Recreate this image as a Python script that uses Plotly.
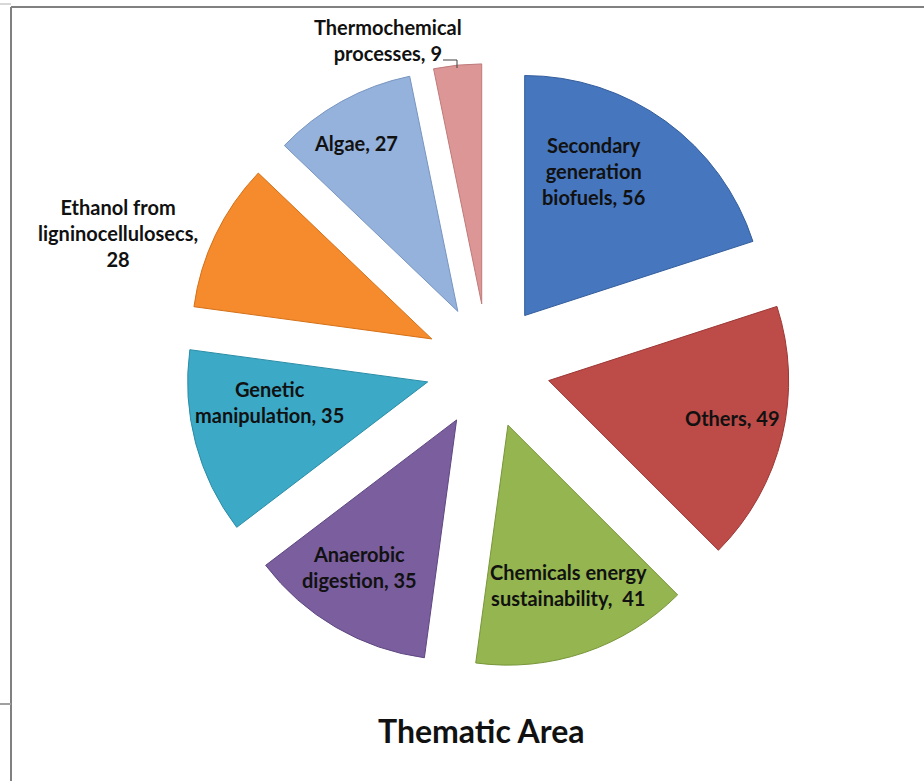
import plotly.graph_objects as go

W, H = 924, 781

labels = ["Secondary generation biofuels", "Others", "Chemicals energy sustainability",
          "Anaerobic digestion", "Genetic manipulation", "Ethanol from ligninocellulosecs",
          "Algae", "Thermochemical processes"]
values = [56, 49, 41, 35, 35, 28, 27, 9]
label_text = ["Secondary<br>generation<br>biofuels, 56", "Others, 49",
              "Chemicals energy<br>sustainability,  41", "Anaerobic<br>digestion, 35",
              "Genetic<br>manipulation, 35", "Ethanol from<br>ligninocellulosecs,<br>28",
              "Algae, 27", "Thermochemical<br>processes, 9"]
colors = ["#4676bd", "#bd4b48", "#94b54f", "#7a5e9e", "#3caac7", "#f58b2c", "#94b2dc", "#dc9696"]
edges = ["#335d9c", "#9c3835", "#78963a", "#5f4782", "#2b8ca6", "#d47018", "#7895c0", "#bf7a7a"]

# label centres in pixels
label_pos = [(593, 171), (732, 418), (568, 585), (359, 567),
             (269, 402), (118, 233), (356, 143), (388, 40)]

cx, cy, R, pull = 488, 366, 240, 0.26
half = R * (1 + pull)

fig = go.Figure(go.Pie(
    labels=labels,
    values=values,
    sort=False,
    direction="clockwise",
    rotation=0,
    pull=[pull] * len(values),
    marker=dict(colors=colors, line=dict(color=edges, width=1)),
    textinfo="none",
    hoverinfo="label+value",
    showlegend=False,
    domain=dict(x=[(cx - half) / W, (cx + half) / W],
                y=[1 - (cy + half) / H, 1 - (cy - half) / H]),
))

font = dict(family="Lato, 'Open Sans', sans-serif", size=20, color="#111111")
annotations = []
for txt, (px, py) in zip(label_text, label_pos):
    annotations.append(dict(x=px / W, y=1 - py / H, xref="paper", yref="paper",
                            text="<b>" + txt + "</b>", showarrow=False,
                            font=font, align="center", xanchor="center", yanchor="middle"))
annotations.append(dict(x=481 / W, y=1 - 730 / H, xref="paper", yref="paper",
                        text="<b>Thematic Area</b>", showarrow=False,
                        font=dict(family="Lato, 'Open Sans', sans-serif", size=32, color="#111111"),
                        xanchor="center", yanchor="middle"))


def px_line(x0, y0, x1, y1, color="#808080", width=2):
    return dict(type="line", xref="paper", yref="paper",
                x0=x0 / W, y0=1 - y0 / H, x1=x1 / W, y1=1 - y1 / H,
                line=dict(color=color, width=width))


shapes = [
    px_line(11, 7, W, 7),
    px_line(11, 7, 11, H),
    px_line(0, 4, 11, 4, color="#b0b0b0", width=1),
    px_line(0, 704, 11, 704, color="#a0a0a0", width=2),
    # leader line for the thermochemical label
    dict(type="path", xref="paper", yref="paper",
         path="M {} {} L {} {} L {} {}".format(443 / W, 1 - 60 / H, 457 / W, 1 - 60 / H,
                                                457 / W, 1 - 68 / H),
         line=dict(color="#404040", width=1)),
]

fig.update_layout(
    width=W, height=H,
    margin=dict(l=0, r=0, t=0, b=0),
    paper_bgcolor="white",
    plot_bgcolor="white",
    annotations=annotations,
    shapes=shapes,
)

# drop the default 8px body margin so the figure sits at the window corner
fig.write_html("out.html", config={"displayModeBar": False},
               post_script="document.body.style.margin='0';")
